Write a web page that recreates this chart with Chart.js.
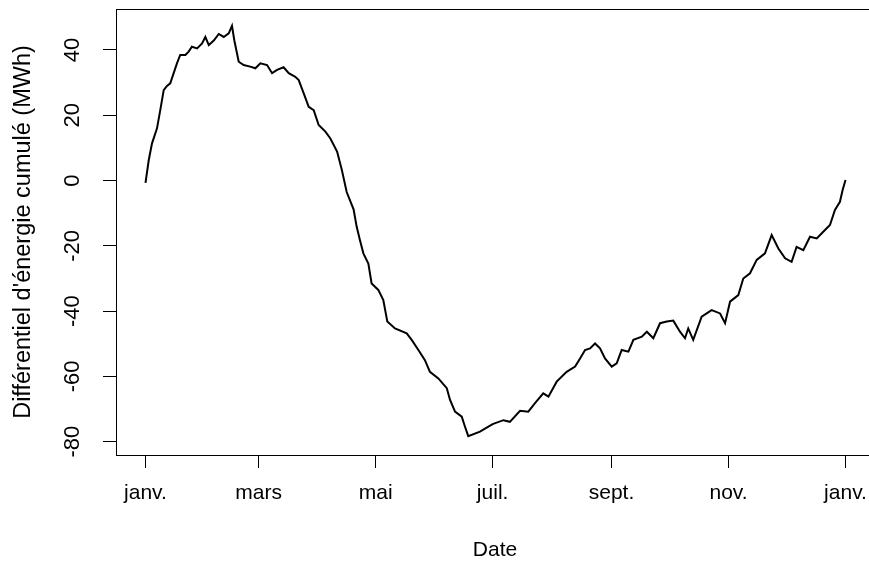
<!DOCTYPE html>
<html>
<head>
<meta charset="utf-8">
<script src="https://cdn.jsdelivr.net/npm/chart.js@4/dist/chart.umd.min.js"></script>
<style>
  html, body { margin: 0; padding: 0; background: #fff; overflow: hidden; }
  canvas { display: block; }
</style>
</head>
<body>
<canvas id="chart" width="880" height="565"></canvas>
<script>
// Day of year (0 = 1 janv.) and cumulated energy differential (MWh)
const dayOfYear = [
  0, 1.7, 3.4, 6, 7.7, 9.5, 11.2, 12.9, 14.7, 16.4, 18.1, 20.8, 22.5, 24.2, 26.9, 29.5,
  31.2, 33, 35.6, 38.2, 40.8, 43.4, 45.1, 46.3, 47.7, 48.6, 51.2, 54.6, 57.3, 59.9, 63.4,
  66, 68.6, 72, 74.7, 78.1, 79.9, 82.5, 85.1, 87.7, 90.3, 93.8, 96.4, 99.9, 102.4, 104.9,
  108.5, 110.1, 111.8, 113.6, 116.2, 117.9, 121.4, 124, 126.1, 130.1, 136.2, 138.8, 142.3,
  145.7, 148.3, 152.7, 157.1, 158.8, 161.4, 164.9, 166.6, 168.3, 174.4, 181, 186.6, 190,
  195.3, 199.6, 203.1, 207.4, 210.1, 214.4, 219.6, 224, 226.6, 229.2, 231.8, 234.4, 237,
  239.6, 243.1, 245.7, 248.3, 251.8, 254.4, 258.8, 261.4, 264.8, 268.3, 271.8, 275.2,
  278.7, 281.3, 283, 285.6, 290, 295.2, 299.6, 302.2, 304.8, 309.1, 311.7, 315.2, 318.7,
  323, 326.5, 330, 333.5, 336.9, 339.5, 343, 346.5, 350, 353.4, 356.9, 359.5, 362.1,
  363.5, 365
];
const cumulEnergy = [
  -0.7, 6.3, 11.4, 16, 21.6, 27.7, 29, 29.8, 32.9, 35.9, 38.5, 38.5, 39.5, 41, 40.5, 42,
  44, 41.5, 42.9, 44.9, 44, 45.1, 47.4, 43, 39, 36.4, 35.4, 34.9, 34.4, 35.9, 35.4,
  32.9, 33.9, 34.7, 32.9, 31.8, 30.8, 26.7, 22.6, 21.6, 17, 15, 12.9, 8.9, 3.2, -3.5,
  -8.8, -14.1, -18.2, -22.3, -25.4, -31.5, -33.5, -36.6, -43.2, -45.3, -46.8, -48.8, -51.9,
  -55, -58.6, -60.6, -63.6, -67.2, -70.8, -72.3, -75.4, -78.3, -76.9, -74.6, -73.4, -73.9,
  -70.5, -70.8, -68.2, -65.2, -66.2, -61.6, -58.6, -57, -54.5, -51.9, -51.4, -49.9, -51.4,
  -54.5, -57, -56, -51.9, -52.4, -48.8, -47.8, -46.3, -48.3, -43.7, -43.2, -42.9,
  -46.3, -48.3, -45.3, -48.8, -41.7, -39.7, -40.7, -43.7, -37.1, -35.1, -30, -28.4, -24.3,
  -22.3, -16.7, -20.8, -23.8, -24.9, -20.3, -21.3, -17.2, -17.7, -15.7, -13.6, -9, -6.5,
  -2.9, 0.2
];

const tickDays = [0, 59, 120, 181, 243, 304, 365];
const tickLabels = ['janv.', 'mars', 'mai', 'juil.', 'sept.', 'nov.', 'janv.'];
const yTicks = [-80, -60, -40, -20, 0, 20, 40];

const fontFamily = '"Liberation Sans", Arial, sans-serif';

// R-style box around the plot region
const boxPlugin = {
  id: 'box',
  afterDraw(chart) {
    const { ctx, chartArea: a } = chart;
    ctx.save();
    ctx.strokeStyle = '#000';
    ctx.lineWidth = 1;
    ctx.strokeRect(a.left + 0.5, a.top + 0.5, a.right - a.left, a.bottom - a.top);
    ctx.restore();
  }
};

const points = dayOfYear.map((d, i) => ({ x: d, y: cumulEnergy[i] }));

new Chart(document.getElementById('chart'), {
  type: 'line',
  data: {
    datasets: [{
      data: points,
      borderColor: '#000',
      borderWidth: 2,
      pointRadius: 0,
      tension: 0,
      fill: false
    }]
  },
  options: {
    responsive: false,
    animation: false,
    devicePixelRatio: 1,
    layout: { padding: { left: 0, top: 9, right: 6, bottom: 0 } },
    plugins: {
      legend: { display: false },
      tooltip: { enabled: false }
    },
    scales: {
      x: {
        type: 'linear',
        min: -15.38,
        max: 379.86,
        afterBuildTicks: (scale) => { scale.ticks = tickDays.map(v => ({ value: v })); },
        afterFit: (scale) => {
          scale.height = 110;
          scale.paddingLeft = 0;
          scale.paddingRight = 0;
        },
        ticks: {
          autoSkip: false,
          maxRotation: 0,
          padding: 13,
          color: '#000',
          font: { family: fontFamily, size: 21 },
          callback: (v, i) => tickLabels[i]
        },
        grid: { drawOnChartArea: false, drawTicks: true, tickLength: 13, color: '#000' },
        border: { display: true, color: '#000' },
        title: {
          display: true,
          text: 'Date',
          color: '#000',
          font: { family: fontFamily, size: 21 },
          padding: { top: 0, bottom: 2 }
        }
      },
      y: {
        type: 'linear',
        min: -84.07,
        max: 52.56,
        afterBuildTicks: (scale) => { scale.ticks = yTicks.map(v => ({ value: v })); },
        afterFit: (scale) => {
          scale.width = 116;
          scale.paddingTop = 0;
          scale.paddingBottom = 0;
        },
        ticks: {
          minRotation: 90,
          maxRotation: 90,
          crossAlign: 'center',
          padding: 14,
          color: '#000',
          font: { family: fontFamily, size: 22 },
          callback: (v) => String(v)
        },
        grid: { drawOnChartArea: false, drawTicks: true, tickLength: 13, color: '#000' },
        border: { display: true, color: '#000' },
        title: {
          display: true,
          text: 'Différentiel d\'énergie cumulé (MWh)',
          color: '#000',
          font: { family: fontFamily, size: 23.5 },
          padding: { top: 9, bottom: 0 }
        }
      }
    }
  },
  plugins: [boxPlugin]
});
</script>
</body>
</html>
